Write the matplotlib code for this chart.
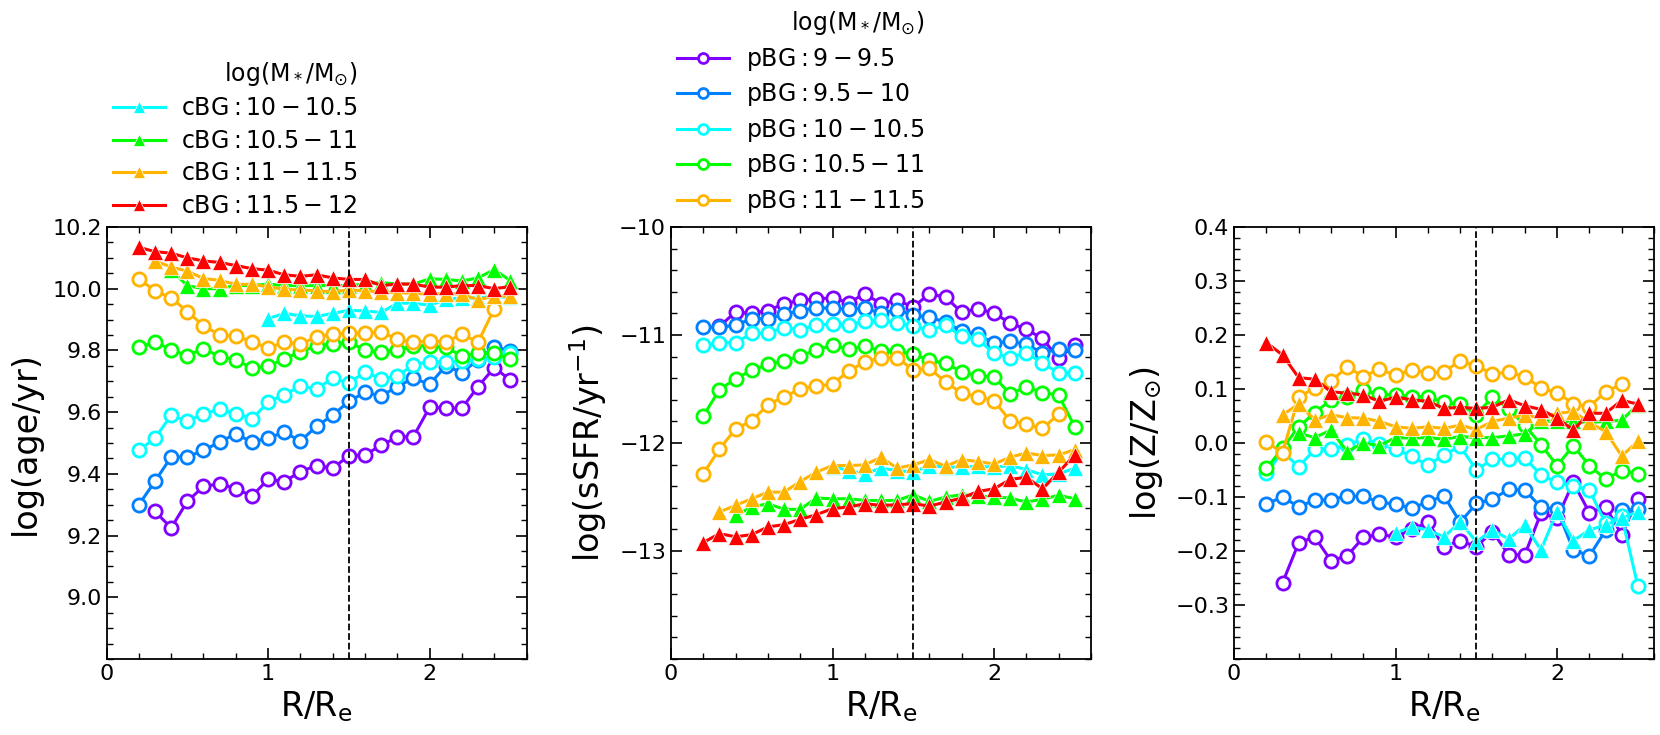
import numpy as np
import matplotlib.pyplot as plt

# radial bins in units of R/Re
r = [0.2, 0.3, 0.4, 0.5, 0.6, 0.7, 0.8, 0.9, 1.0, 1.1, 1.2, 1.3,
     1.4, 1.5, 1.6, 1.7, 1.8, 1.9, 2.0, 2.1, 2.2, 2.3, 2.4, 2.5]

# ---------------- log(age/yr) ----------------
age_p9 = [9.278, 9.225, 9.311, 9.359, 9.368, 9.352, 9.328, 9.382, 9.375, 9.407, 9.427, 9.418,
          9.459, 9.462, 9.492, 9.52, 9.521, 9.616, 9.613, 9.613, 9.683, 9.744, 9.704]
age_p95 = [9.30, 9.376, 9.455, 9.455, 9.476, 9.503, 9.53, 9.503, 9.516, 9.535, 9.506, 9.554,
           9.59, 9.635, 9.664, 9.652, 9.683, 9.71, 9.69, 9.75, 9.728, 9.77, 9.812, 9.798]
age_p10 = [9.476, 9.516, 9.59, 9.57, 9.595, 9.609, 9.595, 9.578, 9.632, 9.657, 9.684, 9.675,
           9.71, 9.694, 9.73, 9.708, 9.716, 9.754, 9.763, 9.763, 9.765, 9.771, 9.78, 9.79]
age_p105 = [9.81, 9.828, 9.802, 9.783, 9.806, 9.78, 9.77, 9.742, 9.75, 9.772, 9.796, 9.815,
            9.82, 9.826, 9.802, 9.794, 9.802, 9.815, 9.815, 9.81, 9.782, 9.79, 9.79, 9.773]
age_p11 = [10.032, 9.993, 9.97, 9.926, 9.88, 9.85, 9.847, 9.828, 9.808, 9.826, 9.82, 9.844,
           9.853, 9.855, 9.856, 9.86, 9.836, 9.826, 9.83, 9.828, 9.852, 9.827, 9.935]
age_c10 = [9.903, 9.92, 9.912, 9.91, 9.92, 9.93, 9.928, 9.923, 9.953, 9.953, 9.946, 9.965,
           9.97, 9.97, 9.975, 9.972]
age_c105 = [10.06, 10.01, 10.0, 10.0, 10.01, 10.01, 10.015, 10.01, 10.01, 10.01, 10.01, 10.01,
            10.015, 10.02, 10.015, 10.015, 10.032, 10.03, 10.025, 10.035, 10.062, 10.026]
age_c11 = [10.09, 10.07, 10.057, 10.033, 10.027, 10.014, 10.014, 10.006, 9.998, 9.996, 9.993, 9.99,
           9.996, 9.993, 9.99, 9.987, 9.985, 9.982, 9.984, 9.982, 9.964, 9.976, 9.975]
age_c115 = [10.134, 10.12, 10.115, 10.10, 10.09, 10.085, 10.075, 10.065, 10.06, 10.045, 10.04, 10.045,
            10.035, 10.03, 10.03, 10.01, 10.015, 10.015, 10.005, 10.005, 10.01, 10.01, 10.0, 10.007]

# ---------------- log(sSFR/yr^-1) ----------------
ssfr_p9 = [-10.92, -10.787, -10.80, -10.774, -10.71, -10.68, -10.664, -10.657, -10.70, -10.62, -10.71, -10.68,
           -10.74, -10.62, -10.65, -10.79, -10.756, -10.80, -10.888, -10.949, -11.032, -11.217, -11.094]
ssfr_p95 = [-10.928, -10.928, -10.91, -10.848, -10.848, -10.81, -10.774, -10.75, -10.75, -10.76, -10.75, -10.80,
            -10.765, -10.817, -10.836, -10.88, -10.965, -10.995, -11.078, -11.057, -11.088, -11.164, -11.134, -11.14]
ssfr_p10 = [-11.097, -11.072, -11.072, -10.986, -10.98, -10.934, -10.95, -10.912, -10.894, -10.91, -10.87, -10.863,
            -10.888, -10.918, -10.955, -10.912, -11.01, -11.04, -11.17, -11.21, -11.164, -11.263, -11.349, -11.355]
ssfr_p105 = [-11.748, -11.508, -11.404, -11.327, -11.272, -11.241, -11.195, -11.14, -11.094, -11.134, -11.103, -11.149,
             -11.149, -11.18, -11.232, -11.263, -11.34, -11.38, -11.386, -11.548, -11.478, -11.533, -11.558, -11.85]
ssfr_p11 = [-12.286, -12.055, -11.871, -11.794, -11.647, -11.57, -11.502, -11.472, -11.456, -11.333, -11.25, -11.21,
            -11.21, -11.324, -11.309, -11.435, -11.54, -11.57, -11.61, -11.794, -11.825, -11.865, -11.733]
ssfr_c10 = [-12.22, -12.255, -12.286, -12.233, -12.255, -12.27, -12.209, -12.224, -12.224, -12.215, -12.224, -12.209,
            -12.246, -12.295, -12.286, -12.233]
ssfr_c105 = [-12.67, -12.593, -12.562, -12.614, -12.614, -12.51, -12.516, -12.516, -12.532, -12.532, -12.532, -12.48,
             -12.541, -12.5, -12.48, -12.49, -12.5, -12.51, -12.547, -12.52, -12.485, -12.516]
ssfr_c11 = [-12.639, -12.578, -12.516, -12.455, -12.455, -12.357, -12.27, -12.209, -12.209, -12.203, -12.132, -12.233,
            -12.203, -12.154, -12.215, -12.154, -12.172, -12.194, -12.132, -12.092, -12.117, -12.11, -12.062]
ssfr_c115 = [-12.922, -12.839, -12.869, -12.848, -12.777, -12.756, -12.707, -12.664, -12.608, -12.593, -12.562, -12.578,
             -12.572, -12.562, -12.584, -12.547, -12.51, -12.449, -12.424, -12.338, -12.317, -12.424, -12.27, -12.111]

# ---------------- log(Z/Zsun) ----------------
z_p9 = [-0.259, -0.185, -0.174, -0.218, -0.209, -0.175, -0.169, -0.174, -0.16, -0.147, -0.192, -0.181,
        -0.192, -0.164, -0.207, -0.207, -0.13, -0.139, -0.073, -0.129, -0.118, -0.17, -0.104]
z_p95 = [-0.113, -0.1, -0.118, -0.106, -0.105, -0.098, -0.099, -0.11, -0.113, -0.121, -0.109, -0.098,
         -0.147, -0.112, -0.104, -0.086, -0.087, -0.119, -0.123, -0.198, -0.209, -0.162, -0.125, -0.123]
z_p10 = [-0.056, -0.016, -0.044, -0.012, -0.012, -0.004, 0.008, -0.001, -0.011, -0.025, -0.041, -0.022,
         -0.006, -0.05, -0.03, -0.03, -0.028, -0.059, -0.073, -0.079, -0.087, -0.149, -0.136, -0.265]
z_p105 = [-0.047, -0.01, 0.030, 0.056, 0.080, 0.085, 0.098, 0.09, 0.089, 0.086, 0.086, 0.075,
          0.072, 0.052, 0.086, 0.063, 0.033, -0.003, -0.042, -0.005, -0.042, -0.067, -0.051, -0.057]
z_p11 = [0.002, -0.018, 0.085, 0.102, 0.114, 0.141, 0.123, 0.137, 0.125, 0.135, 0.13, 0.132,
         0.152, 0.143, 0.128, 0.131, 0.123, 0.102, 0.093, 0.073, 0.067, 0.095, 0.109]
z_c10 = [-0.167, -0.155, -0.161, -0.174, -0.146, -0.183, -0.161, -0.178, -0.152, -0.198, -0.127, -0.181,
         -0.161, -0.152, -0.139, -0.127]
z_c105 = [0.018, 0.010, 0.024, -0.016, 0.0, -0.005, 0.010, 0.009, 0.010, 0.007, 0.012, 0.010,
          0.010, 0.013, 0.017, 0.041, 0.04, 0.04, 0.038, 0.04, 0.042, 0.071]
z_c11 = [0.052, 0.072, 0.043, 0.052, 0.047, 0.046, 0.04, 0.030, 0.027, 0.030, 0.027, 0.033,
         0.025, 0.04, 0.046, 0.052, 0.046, 0.055, 0.058, 0.038, 0.021, -0.024, 0.003]
z_c115 = [0.186, 0.163, 0.121, 0.118, 0.095, 0.092, 0.089, 0.077, 0.085, 0.08, 0.077, 0.064,
          0.066, 0.064, 0.066, 0.08, 0.069, 0.062, 0.046, 0.024, 0.055, 0.055, 0.079, 0.072]

# mass bin labels
pbg_labels = [r'$\rm pBG: 9-9.5$', r'$\rm pBG: 9.5-10$', r'$\rm pBG: 10-10.5$',
              r'$\rm pBG: 10.5-11$', r'$\rm pBG: 11-11.5$']
cbg_labels = [r'$\rm cBG: 10-10.5$', r'$\rm cBG: 10.5-11$', r'$\rm cBG: 11-11.5$',
              r'$\rm cBG: 11.5-12$']
legend_title = r'$\rm log(M_*/M_{\odot})$'

pbg_colors = ['#8000ff', '#0080ff', '#00ffff', '#00ff00', '#ffb400']
cbg_colors = ['#00ffff', '#00ff00', '#ffb400', '#ff0000']

# start index of each series on the r grid (pBG 11-11.5 stops at 2.4)
pbg_start = [1, 0, 0, 0, 0]
cbg_start = [8, 2, 1, 0]

panels = [
    ([age_p9, age_p95, age_p10, age_p105, age_p11], [age_c10, age_c105, age_c11, age_c115]),
    ([ssfr_p9, ssfr_p95, ssfr_p10, ssfr_p105, ssfr_p11], [ssfr_c10, ssfr_c105, ssfr_c11, ssfr_c115]),
    ([z_p9, z_p95, z_p10, z_p105, z_p11], [z_c10, z_c105, z_c11, z_c115]),
]
ylabels = ['log(age/yr)', r'log(sSFR/yr$^{-1}$)', r'log(Z/Z$_{\odot}$)']
ylims = [(8.8, 10.2), (-14, -10), (-0.4, 0.4)]
yticks = [[9.0, 9.2, 9.4, 9.6, 9.8, 10.0, 10.2], [-13, -12, -11, -10],
          [-0.3, -0.2, -0.1, 0.0, 0.1, 0.2, 0.3, 0.4]]
yticklabels = [['9.0', '9.2', '9.4', '9.6', '9.8', '10.0', '10.2'],
               ['\u221213', '\u221212', '\u221211', '\u221210'],
               ['\u22120.3', '\u22120.2', '\u22120.1', '0.0', '0.1', '0.2', '0.3', '0.4']]
yminor = [0.05, 0.2, 0.02]

fig = plt.figure(figsize=(16.6, 7.35), dpi=100)
lefts = [0.0642, 0.4042, 0.7434]

axes = []
for i, (pbg, cbg) in enumerate(panels):
    ax = fig.add_axes([lefts[i], 0.1034, 0.253, 0.5878])
    axes.append(ax)
    for k, ys in enumerate(pbg):
        s = pbg_start[k]
        ax.plot(r[s:s + len(ys)], ys, '-o', color=pbg_colors[k], mfc='white',
                mec=pbg_colors[k], ms=9.5, mew=2.0, lw=2.2, label=pbg_labels[k])
    for k, ys in enumerate(cbg):
        s = cbg_start[k]
        ax.plot(r[s:s + len(ys)], ys, '-^', color=cbg_colors[k], mfc=cbg_colors[k],
                mec='white', ms=11.5, mew=0.5, lw=2.2, label=cbg_labels[k])
    ax.axvline(1.5, color='k', ls='--', lw=1.3)

    ax.set_xlim(0, 2.6)
    ax.set_ylim(*ylims[i])
    ax.set_xticks([0, 1, 2])
    ax.set_xticks(np.arange(0, 2.61, 0.2), minor=True)
    ax.set_yticks(yticks[i])
    ax.set_yticklabels(yticklabels[i])
    lo, hi = ylims[i]
    ax.set_yticks(np.arange(lo, hi + 1e-6, yminor[i]), minor=True)
    ax.tick_params(which='both', direction='in', top=True, right=True, labelsize=16)
    ax.tick_params(which='major', length=8, width=1.2)
    ax.tick_params(which='minor', length=4, width=1.0)
    for sp in ax.spines.values():
        sp.set_linewidth(1.3)
    ax.set_xlabel(r'R/R$_{\rm e}$', fontsize=24)
    ax.set_ylabel(ylabels[i], fontsize=24, labelpad=7.5)

leg_kw = dict(title=legend_title, loc='lower left', frameon=False, fontsize=17,
              title_fontsize=17, markerscale=0.75, handlelength=2.2, handletextpad=0.7,
              labelspacing=0.36, borderpad=0, borderaxespad=0, alignment='right')

# legend for compact BGs above the first panel
h, l = axes[0].get_legend_handles_labels()
axes[0].legend(h[5:], l[5:], bbox_to_anchor=(0.015, 1.021), **leg_kw)

# legend for partial BGs above the second panel
h, l = axes[1].get_legend_handles_labels()
axes[1].legend(h[:5], l[:5], bbox_to_anchor=(0.015, 1.028), **leg_kw)

fig.savefig('out.png', dpi=100)
